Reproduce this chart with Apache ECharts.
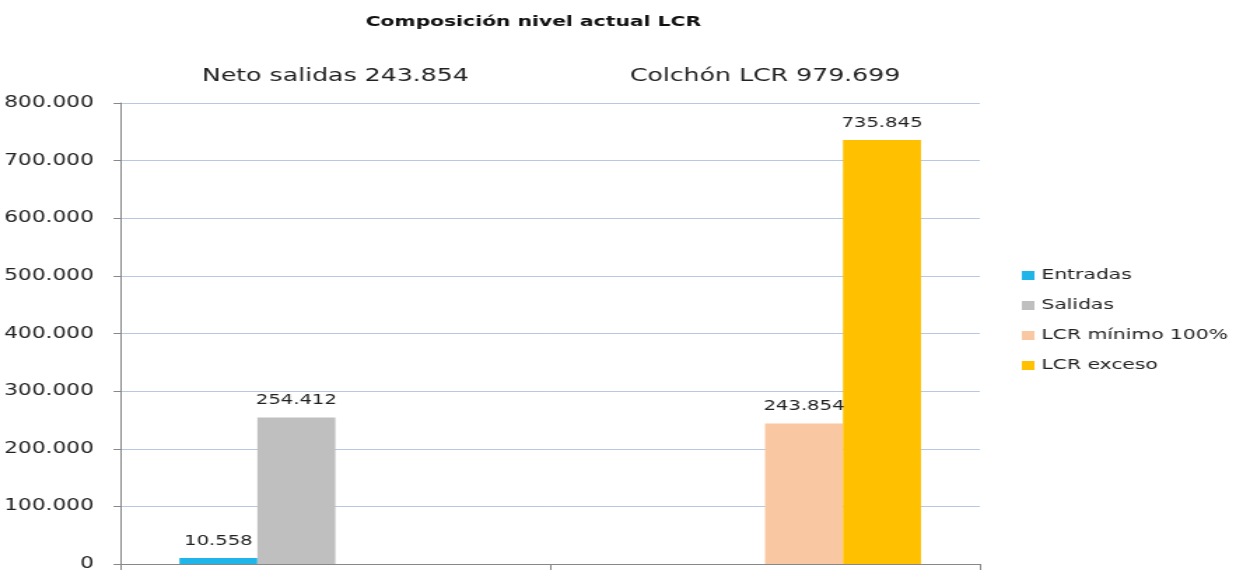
<!DOCTYPE html>
<html>
<head>
<meta charset="utf-8">
<script src="https://cdn.jsdelivr.net/npm/echarts@6/dist/echarts.min.js"></script>
<style>
html,body{margin:0;padding:0;background:#fff;overflow:hidden}
#c{width:888px;height:572px;transform:scaleX(1.39977);transform-origin:0 0}
</style>
</head>
<body>
<div id="c"></div>
<script>
const categories = ['Neto salidas 243.854', 'Colchón LCR 979.699'];
const seriesNames = ['Entradas', 'Salidas', 'LCR mínimo 100%', 'LCR exceso'];
const entradas = [10558, null];
const salidas = [254412, null];
const lcrMinimo = [null, 243854];
const lcrExceso = [null, 735845];
const yTicks = { min: 0, max: 800000, interval: 100000 };

const colors = ['#1fb5e8', '#bfbfbf', '#f9c8a2', '#ffc000'];
const fmt = v => {
  const s = Math.round(v).toString();
  return s.replace(/\B(?=(\d{3})+(?!\d))/g, '.');
};
const font = 'DejaVu Sans, Verdana, sans-serif';
const chart = echarts.init(document.getElementById('c'));
const mk = (name, data, i) => ({
  name, type: 'bar', data, barGap: 0, barCategoryGap: '27.4%',
  itemStyle: { color: colors[i] },
  label: {
    show: true, position: 'top', distance: 10,
    fontFamily: font, fontSize: 14, color: '#222',
    formatter: p => (p.value == null ? '' : fmt(p.value))
  }
});
chart.setOption({
  animation: false,
  title: {
    text: 'Composición nivel actual LCR', left: 376, top: 10, textAlign: 'center',
    textStyle: { fontFamily: font, fontSize: 14.5, fontWeight: 'bold', color: '#111' }
  },
  legend: {
    orient: 'vertical', left: 725, top: 263, itemGap: 15,
    itemWidth: 9, itemHeight: 9, icon: 'rect',
    textStyle: { fontFamily: font, fontSize: 14.5, color: '#222' },
    data: seriesNames
  },
  grid: { left: 86, right: 188, top: 103, bottom: 7 },
  xAxis: [
    {
      type: 'category', data: categories, position: 'top',
      axisLine: { show: false }, axisTick: { show: false },
      axisLabel: { margin: 18, fontFamily: font, fontSize: 18, color: '#222' }
    },
    {
      type: 'category', data: categories, position: 'bottom',
      axisLine: { show: true, lineStyle: { color: '#888', width: 1 } },
      axisTick: { show: true, length: 6, lineStyle: { color: '#888' } },
      axisLabel: { show: false }
    }
  ],
  yAxis: {
    type: 'value', min: yTicks.min, max: yTicks.max, interval: yTicks.interval,
    axisLine: { show: true, lineStyle: { color: '#888' } },
    axisTick: { show: true, length: 5, lineStyle: { color: '#888' } },
    splitLine: { lineStyle: { color: '#b8c8e2', width: 1 } },
    axisLabel: { margin: 19, fontFamily: font, fontSize: 15.5, color: '#222', formatter: fmt }
  },
  series: [
    mk(seriesNames[0], entradas, 0),
    mk(seriesNames[1], salidas, 1),
    mk(seriesNames[2], lcrMinimo, 2),
    mk(seriesNames[3], lcrExceso, 3)
  ]
});
</script>
</body>
</html>
